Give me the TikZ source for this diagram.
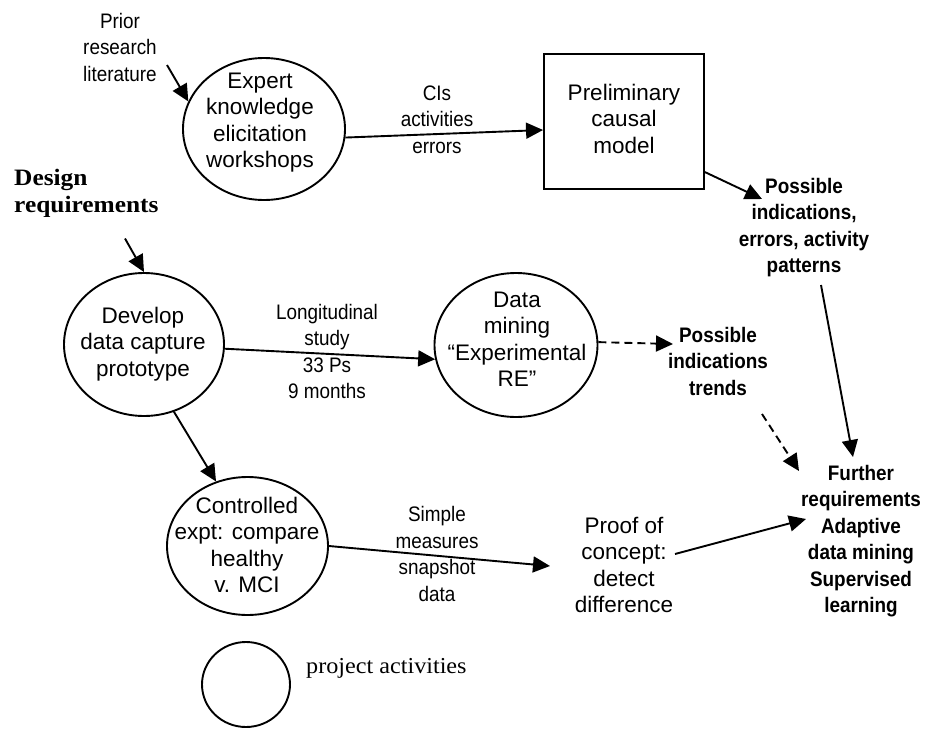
\documentclass[tikz,border=0pt]{standalone}
\usepackage{fontspec}
\setmainfont{Liberation Sans}
\newfontfamily\lblfont{Liberation Sans}[FakeStretch=0.9]
\newfontfamily\serifbf{Liberation Serif}[FakeStretch=1.08]
\newfontfamily\serifrm{Liberation Serif}[FakeStretch=1.06]
\usetikzlibrary{arrows.meta,shapes.geometric}
\begin{document}
\begin{tikzpicture}[x=1pt,y=-1pt,
  shapetext/.style={inner sep=0pt,align=center,font=\fontsize{22.5}{26.5}\selectfont},
  lbltext/.style={inner sep=0pt,align=center,font=\lblfont\fontsize{21}{26.5}\selectfont},
  boldlbl/.style={inner sep=0pt,align=center,font=\lblfont\bfseries\fontsize{21}{26.5}\selectfont},
  activity/.style={draw,ellipse,line width=1.9pt,inner sep=0pt},
  flow/.style={line width=1.9pt,-{Triangle[length=17pt,width=16pt]}},
  dflow/.style={flow,dash pattern=on 8pt off 5pt},
]
\useasboundingbox (0,0) rectangle (934,728);

% shapes
\node[activity,minimum width=162pt,minimum height=142pt] (expert) at (264,129) {};
\node[shapetext] (expertT) at (260,122.7) {\strut Expert\\knowledge\\elicitation\\workshops\strut};

\node[draw,line width=1.9pt,minimum width=160pt,minimum height=135pt,inner sep=0pt,shapetext] (model) at (624,121.5) {\strut Preliminary\\causal\\model\strut};

\node[activity,minimum width=160pt,minimum height=143pt] (develop) at (144,344.5) {};
\node[shapetext] (developT) at (143,344.2) {\strut Develop\\data capture\\prototype\strut};

\node[activity,minimum width=163pt,minimum height=144pt] (data) at (516,345) {};
\node[shapetext] (dataT) at (517,341.5) {\strut Data\\mining\\“Experimental\\RE”\strut};

\node[activity,minimum width=161pt,minimum height=138pt] (ctrl) at (247.5,546) {};
\node[shapetext] (ctrlT) at (247,547.5) {\strut Controlled\\expt: compare\\healthy\\v. MCI\strut};

\node[activity,minimum width=88pt,minimum height=85pt] (legend) at (246,684.5) {};
\node[inner sep=0pt,anchor=base west,font=\serifrm\fontsize{22.8}{26}\selectfont] (legendT) at (306,673) {project activities};

% labels
\node[lbltext] (prior) at (120,49.2) {\strut Prior\\research\\literature\strut};
\node[inner sep=0pt,anchor=north west,align=left,font=\serifbf\bfseries\fontsize{23.5}{27}\selectfont] (design) at (14,166.1) {\strut Design\\requirements\strut};
\node[lbltext] (cis) at (437,121.2) {\strut CIs\\activities\\errors\strut};
\node[boldlbl] (pie) at (804,227.5) {\strut Possible\\indications,\\errors, activity\\patterns\strut};
\node[lbltext] (long) at (327,353.7) {\strut Longitudinal\\study\\33 Ps\\9 months\strut};
\node[boldlbl] (pit) at (718,363.2) {\strut Possible\\indications\\trends\strut};
\node[lbltext] (simple) at (437,556.4) {\strut Simple\\measures\\snapshot\\data\strut};
\node[shapetext] (proof) at (624,567.5) {\strut Proof of\\concept:\\detect\\difference\strut};
\node[boldlbl] (further) at (861,541) {\strut Further\\requirements\\Adaptive\\data mining\\Supervised\\learning\strut};

% connectors
\draw[flow] ([shift={(47,15.8)}]prior.center) -- (expert.160);
\draw[flow] (expert.-6) -- (model.186);
\draw[flow] (model.-32) -- ([shift={(-42,-28.5)}]pie.center);
\draw[flow] ([shift={(111,18)}]design.south west) -- (develop.north);
\draw[flow] (develop.-3) -- (data.190);
\draw[flow] (develop.-66) -- (ctrl.116);
\draw[dflow] (data.2) -- ([shift={(-45,-19.2)}]pit.center);
\draw[dflow] ([shift={(44,50.8)}]pit.center) -- ([shift={(-62,-70)}]further.center);
\draw[flow] ([shift={(17,57.5)}]pie.center) -- ([shift={(-8,-84)}]further.center);
\draw[flow] (ctrl.east) -- ([shift={(-74,-1.5)}]proof.center);
\draw[flow] ([shift={(51,-13.5)}]proof.center) -- ([shift={(-55,-22)}]further.center);
\end{tikzpicture}
\end{document}
